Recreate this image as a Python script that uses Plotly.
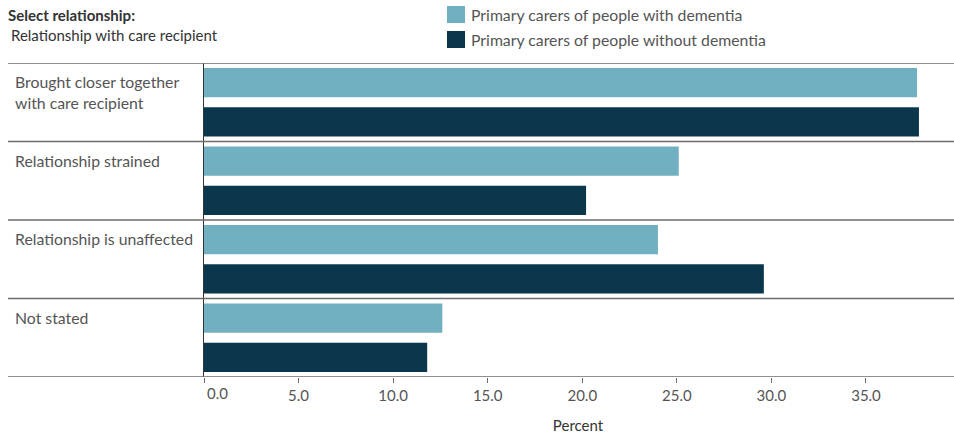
import plotly.graph_objects as go

categories = ["Brought closer together<br>with care recipient", "Relationship strained",
              "Relationship is unaffected", "Not stated"]
series_names = ["Primary carers of people with dementia", "Primary carers of people without dementia"]
with_dementia = [37.7, 25.1, 24.0, 12.6]
without_dementia = [37.8, 20.2, 29.6, 11.8]
tick_values = [0, 5, 10, 15, 20, 25, 30, 35]
tick_labels = ["0.0", "5.0", "10.0", "15.0", "20.0", "25.0", "30.0", "35.0"]

colors = ["#71B0C1", "#0B374D"]
FONT = "Lato"
FS = 15
FS2 = 15.8
TXT = "#555555"

L, R, T, B = 204, 2, 63, 62
W, H = 954, 439
pw = W - L - R
ph = H - T - B

def px_x(px):
    return (px - L) / pw

def px_y(py):
    return (H - B - py) / ph

cat_ids = list(range(len(categories)))

fig = go.Figure()
for name, vals, col in zip(series_names, [with_dementia, without_dementia], colors):
    fig.add_trace(go.Bar(y=cat_ids, x=vals, name=name, orientation="h",
                         marker=dict(color=col, line=dict(width=0)),
                         showlegend=False))

shapes = []
for i in range(len(categories) + 1):
    shapes.append(dict(type="line", xref="paper", yref="y",
                       x0=px_x(8), x1=1.01, y0=i - 0.5, y1=i - 0.5,
                       line=dict(color="#6b6b6b", width=1.5)))

annotations = []
for i, c in enumerate(categories):
    annotations.append(dict(xref="paper", yref="y", x=px_x(13), y=i, yshift=32,
                            xanchor="left", yanchor="top", align="left", text=c,
                            showarrow=False, font=dict(family=FONT, size=FS2, color=TXT)))

# legend
for k, (name, col) in enumerate(zip(series_names, colors)):
    top = 6 + k * 25
    shapes.append(dict(type="rect", xref="paper", yref="paper",
                       x0=px_x(447), x1=px_x(465), y0=px_y(top + 17), y1=px_y(top),
                       fillcolor=col, line=dict(width=0)))
    annotations.append(dict(xref="paper", yref="paper", x=px_x(469), y=px_y(top + 8.5),
                            xanchor="left", yanchor="middle", text=name, showarrow=False,
                            font=dict(family=FONT, size=FS2, color=TXT)))

annotations.append(dict(xref="paper", yref="paper", x=px_x(6), y=px_y(15),
                        xanchor="left", yanchor="middle", text="<b>Select relationship:</b>",
                        showarrow=False, font=dict(family=FONT, size=FS, color="#333333")))
annotations.append(dict(xref="paper", yref="paper", x=px_x(9), y=px_y(35),
                        xanchor="left", yanchor="middle", text="Relationship with care recipient",
                        showarrow=False, font=dict(family=FONT, size=FS, color="#333333")))
# first tick label shifted right (inside the axis)
annotations.append(dict(xref="x", yref="paper", x=tick_values[0], y=px_y(393),
                        xanchor="left", yanchor="middle", xshift=1, text=tick_labels[0],
                        showarrow=False, font=dict(family=FONT, size=FS, color=TXT)))

fig.update_layout(
    width=W, height=H,
    margin=dict(l=L, r=R, t=T, b=B),
    plot_bgcolor="white", paper_bgcolor="white",
    barmode="group", bargap=0.0, bargroupgap=0.256,
    shapes=shapes, annotations=annotations,
    font=dict(family=FONT, size=FS, color=TXT),
    xaxis=dict(range=[0, (W - R - L) / 18.914], tickvals=tick_values,
               ticktext=[""] + tick_labels[1:], ticks="outside", ticklen=5,
               tickcolor="#6b6b6b", showgrid=False, zeroline=False, showline=False,
               tickfont=dict(family=FONT, size=FS, color=TXT),
               title=dict(text="Percent", font=dict(family=FONT, size=FS, color="#333333"),
                          standoff=17)),
    yaxis=dict(range=[len(categories) - 0.5, -0.5], showticklabels=False, ticks="",
               showgrid=False, zeroline=False, showline=True, linecolor="#333333",
               linewidth=1),
)

fig.write_html("out.html", config={"displayModeBar": False},
               post_script="document.body.style.margin='0px';")
